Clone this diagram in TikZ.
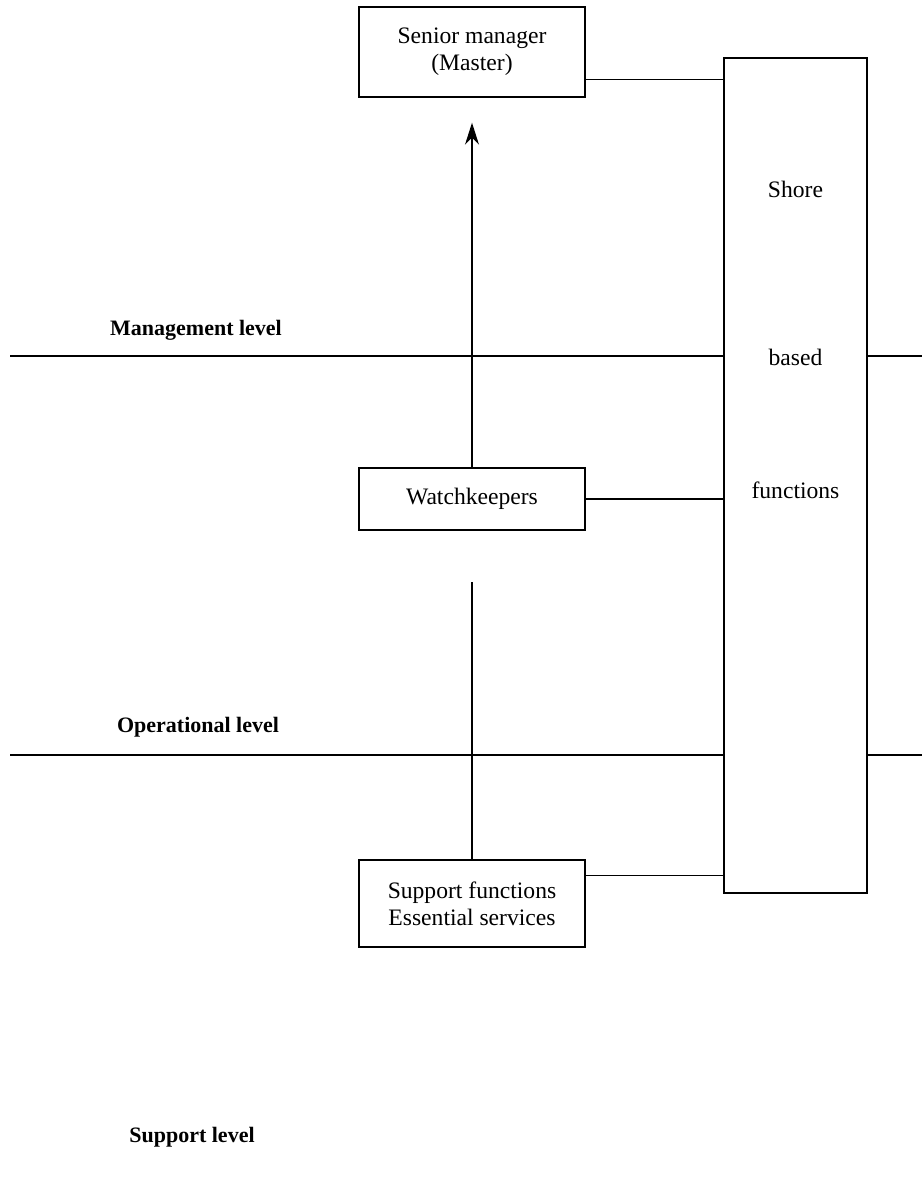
\documentclass[tikz,border=0pt]{standalone}
\usepackage{fontspec}
\setmainfont{Liberation Serif}
\usetikzlibrary{arrows.meta, positioning, calc}

\tikzset{
  unitbox/.style={draw, line width=0.7pt, align=center, font=\fontsize{11.8}{13.5}\selectfont},
  levellabel/.style={font=\fontsize{11}{13}\selectfont\bfseries},
  link/.style={line width=0.7pt}
}

\begin{document}
\begin{tikzpicture}[x=0.5pt, y=-0.5pt]
        \useasboundingbox (0,0) rectangle (922,1195);

        % Boxes on the left
        \node[unitbox, minimum width=113pt, minimum height=45pt] (senior) at (472,52) {Senior manager\\(Master)};
        \node[unitbox, minimum width=113pt, minimum height=31pt] (watch) at (472,499) {Watchkeepers};
        \node[unitbox, minimum width=113pt, minimum height=43.5pt] (support) at (472,903.5) {Support functions\\Essential services};

        % Shore based column
        \node[draw, line width=0.7pt, minimum width=71.5pt, minimum height=417.5pt] (shore) at (795.5,475.5) {};
        \node[font=\fontsize{11.8}{13.5}\selectfont] (shoreA) at (795.5,189) {Shore};
        \node[font=\fontsize{11.8}{13.5}\selectfont] (shoreB) at (795.5,357) {based};
        \node[font=\fontsize{11.8}{13.5}\selectfont] (shoreC) at (795.5,490) {functions};

        % Level lines
        \coordinate (mgmt) at (10,356);
        \coordinate (oper) at (10,755);
        \draw[link] (mgmt) -- (mgmt -| shore.west);
        \draw[link] (shore.east |- mgmt) -- (922,356);
        \draw[link] (oper) -- (oper -| shore.west);
        \draw[link] (shore.east |- oper) -- (922,755);

        \node[levellabel] (mgmtlabel) at (196,330) {Management level};
        \node[levellabel] (operlabel) at (198,727) {Operational level};
        \node[levellabel] (supplabel) at (192,1137) {Support level};

        % Links to shore
        \draw[link] ([yshift=9pt]senior.south east) coordinate (s1) -- (s1 -| shore.west);
        \draw[link] (watch.east) -- (watch.east -| shore.west);
        \draw[link] ([yshift=-8pt]support.north east) coordinate (s3) -- (s3 -| shore.west);

        % Vertical links
        \draw[link, -{Stealth[length=11pt, width=7pt]}] (watch.north) -- ([yshift=-12.5pt]senior.south);
        \coordinate (gap) at ([yshift=138.5pt]support.north);
        \draw[link] (gap) -- (support.north);
    \end{tikzpicture}
\end{document}
